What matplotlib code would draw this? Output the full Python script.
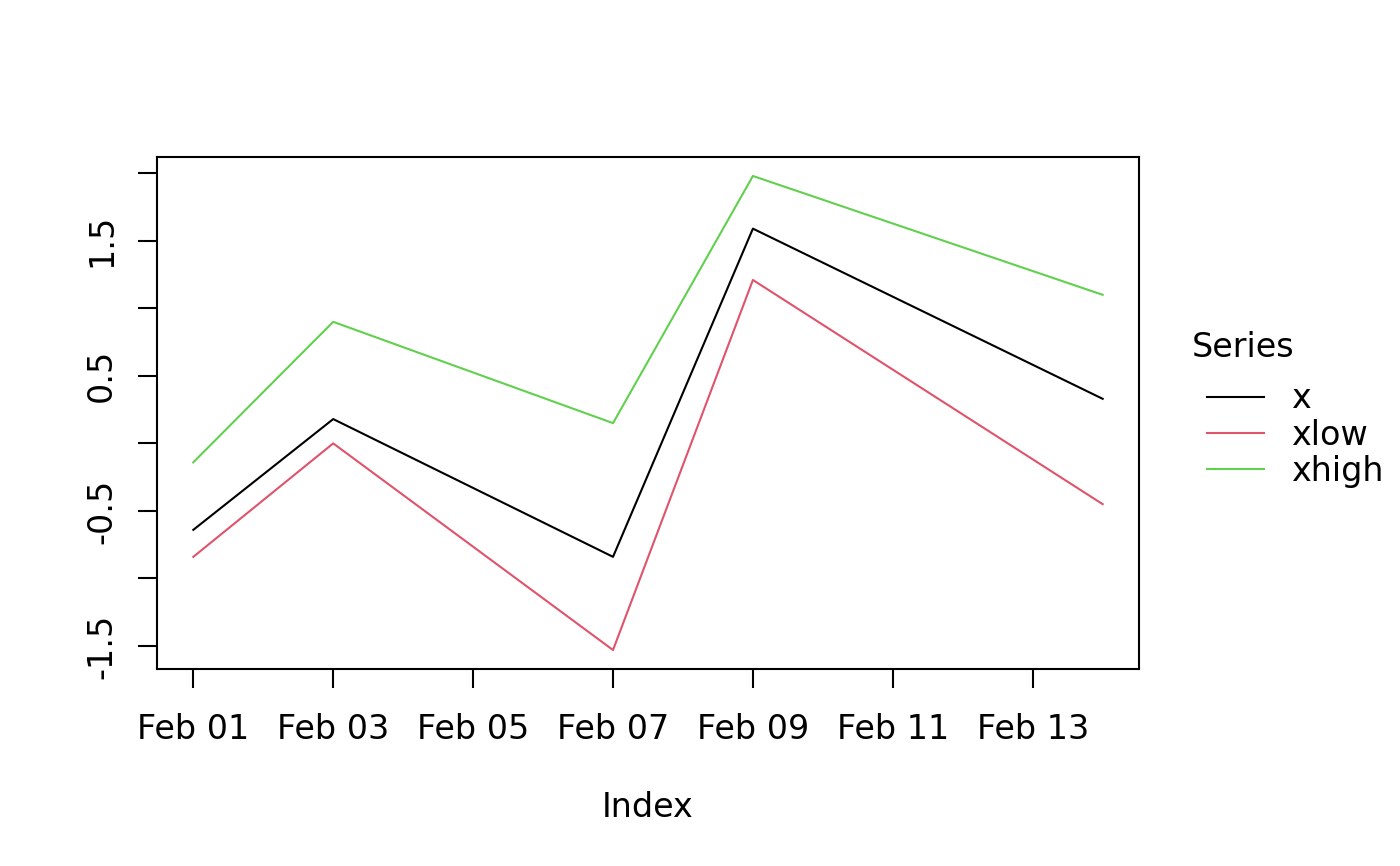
import numpy as np
import matplotlib
matplotlib.use('Agg')
import matplotlib.pyplot as plt
import matplotlib.dates as mdates

# data
dates = np.array(['2020-02-01', '2020-02-03', '2020-02-07', '2020-02-09', '2020-02-14'],
                 dtype='datetime64[D]')
x = [-0.64, 0.18, -0.84, 1.59, 0.33]
xlow = [-0.84, 0.00, -1.53, 1.21, -0.45]
xhigh = [-0.14, 0.90, 0.15, 1.98, 1.10]
series = ['x', 'xlow', 'xhigh']
colors = ['black', '#DF536B', '#61D04F']

plt.rcParams['font.family'] = 'DejaVu Sans'
plt.rcParams['font.size'] = 12

fig = plt.figure(figsize=(7, 4.33), dpi=200)
ax = fig.add_axes([0.1121, 0.2275, 0.7015, 0.5912])

for vals, name, col in zip([x, xlow, xhigh], series, colors):
    ax.plot(dates.astype('datetime64[ms]').astype(object), vals, color=col, lw=0.75, label=name)

# R style 4% expansion
d0 = mdates.date2num(dates[0].astype(object))
d1 = mdates.date2num(dates[-1].astype(object))
span = d1 - d0
ax.set_xlim(d0 - 0.04 * span, d1 + 0.04 * span)
allv = np.concatenate([x, xlow, xhigh])
lo, hi = allv.min(), allv.max()
r = hi - lo
ax.set_ylim(lo - 0.04 * r, hi + 0.04 * r)

ticks = np.arange(np.datetime64('2020-02-01'), np.datetime64('2020-02-15'), 2)
ax.set_xticks([mdates.date2num(t.astype(object)) for t in ticks])
ax.set_xticklabels([t.astype(object).strftime('%b %d') for t in ticks])

yt = np.arange(-1.5, 2.01, 0.5)
ax.set_yticks(yt)
ax.set_yticklabels(['-1.5', '', '-0.5', '', '0.5', '', '1.5', ''], rotation=90, va='center')

for s in ax.spines.values():
    s.set_linewidth(0.75)
ax.tick_params(length=7, width=0.75, labelsize=12)
ax.tick_params(axis='x', pad=9)
ax.tick_params(axis='y', pad=7)

ax.set_xlabel('Index', fontsize=12, labelpad=16)

leg = ax.legend(loc='center left', bbox_to_anchor=(1.039, 0.457),
                frameon=False, fontsize=12,
                handlelength=1.7, handletextpad=0.8, labelspacing=0.1)
fig.text(1192 / 1400, 1 - 357 / 866, 'Series', ha='left', va='baseline', fontsize=12)

fig.savefig('out.png', dpi=200)
